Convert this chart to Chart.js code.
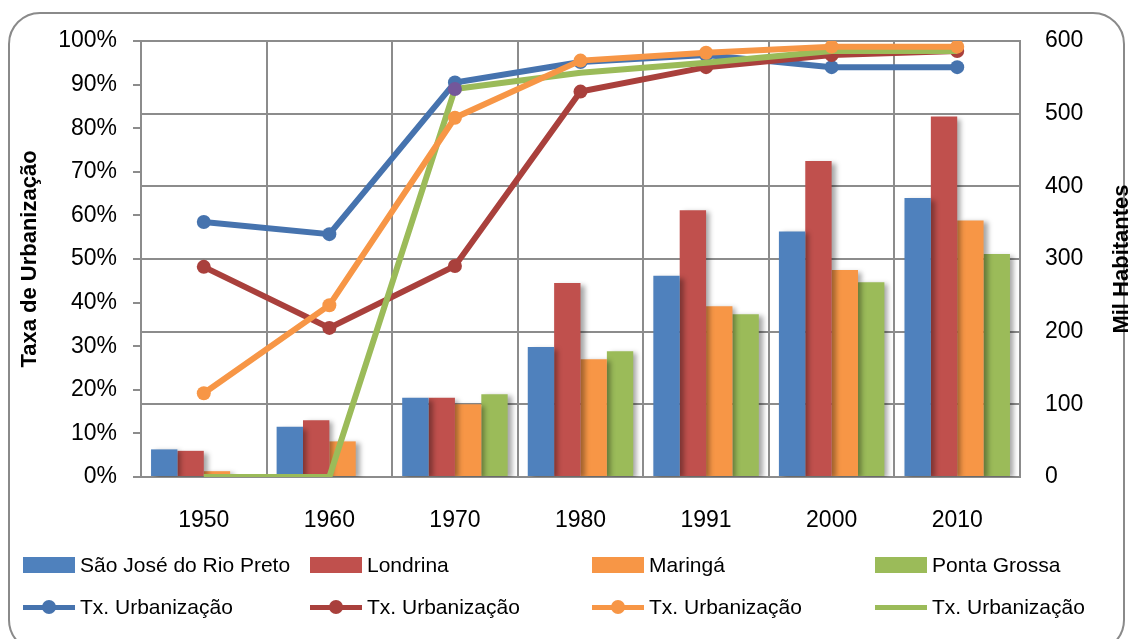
<!DOCTYPE html>
<html>
<head>
<meta charset="utf-8">
<script src="https://cdn.jsdelivr.net/npm/chart.js@4.4.0/dist/chart.umd.min.js"></script>
<style>
  html, body { margin: 0; padding: 0; background: #fff; }
  #wrap { position: relative; width: 1131px; height: 639px; overflow: hidden; background: #fff; }
  #frame { position: absolute; left: 8px; top: 12px; width: 1117px; height: 640px; border: 2px solid #8a8a8a; border-radius: 32px; box-sizing: border-box; }
  #chart { position: absolute; left: 0; top: 0; }
  #legend { position: absolute; left: 0; top: 0; width: 1131px; height: 639px; font-family: "Liberation Sans", Arial, sans-serif; font-size: 21px; color: #000; pointer-events: none; }
  .item { position: absolute; display: flex; align-items: center; height: 24px; white-space: nowrap; }
  .box { width: 52px; height: 16px; margin-right: 5px; }
  .ln { position: relative; width: 52px; height: 16px; margin-right: 5px; }
  .ln .bar { position: absolute; left: 0; right: 0; top: 5.5px; height: 5px; }
  .ln .dot { position: absolute; left: 19px; top: 1px; width: 14px; height: 14px; border-radius: 50%; }
</style>
</head>
<body>
<div id="wrap">
  <div id="frame"></div>
  <canvas id="chart" width="1131" height="639"></canvas>
  <div id="legend"></div>
</div>
<script>
// Census years
const years = ['1950', '1960', '1970', '1980', '1991', '2000', '2010'];

// City names and population (thousands of inhabitants)
const cityNames = ['São José do Rio Preto', 'Londrina', 'Maringá', 'Ponta Grossa'];
const popRioPreto    = [38, 69, 109, 179, 277, 338, 384];
const popLondrina    = [36, 78, 109, 267, 367, 435, 496];
const popMaringa     = [8, 49, 100, 162, 235, 285, 353];
const popPontaGrossa = [0, 0, 114, 173, 224, 268, 307];

// Urbanization rate (%)
const rateLabel = 'Tx. Urbanização';
const urbRioPreto    = [58.5, 55.7, 90.5, 95.2, 96.8, 94.0, 94.0];
const urbLondrina    = [48.2, 34.2, 48.4, 88.4, 94.0, 96.8, 97.7];
const urbMaringa     = [19.2, 39.4, 82.4, 95.5, 97.3, 98.7, 98.7];
const urbPontaGrossa = [0, 0, 89.0, 92.7, 95.0, 97.7, 97.7];

// Axis titles
const leftTitle = 'Taxa de Urbanização';
const rightTitle = 'Mil Habitantes';

const FONT = '"Liberation Sans", Arial, sans-serif';
const barColors  = ['#4F81BD', '#C0504D', '#F79646', '#9BBB59'];
const lineColors = ['#4673AE', '#A9403C', '#F79646', '#9BBB59'];
const GRID = '#8c8c8c';

const pops = [popRioPreto, popLondrina, popMaringa, popPontaGrossa];
const rates = [urbRioPreto, urbLondrina, urbMaringa, urbPontaGrossa];

const datasets = [];
// lines first so they sit on top of the bars
const lineDrawOrder = [4, 3, 1, 2];
rates.forEach((r, i) => {
  const isGreen = i === 3;
  datasets.push({
    type: 'line',
    label: rateLabel,
    data: r,
    yAxisID: 'yL',
    borderColor: lineColors[i],
    backgroundColor: lineColors[i],
    borderWidth: 6,
    pointRadius: isGreen ? [0, 0, 7, 0, 0, 0, 0] : 7,
    pointBackgroundColor: isGreen ? '#73579A' : lineColors[i],
    pointBorderWidth: 0,
    pointHoverRadius: 7,
    tension: 0,
    order: lineDrawOrder[i]
  });
});
pops.forEach((p, i) => {
  datasets.push({
    type: 'bar',
    label: cityNames[i],
    data: p,
    yAxisID: 'yR',
    backgroundColor: barColors[i],
    borderWidth: 0,
    categoryPercentage: 0.84,
    barPercentage: 1.0,
    order: 10
  });
});

// soft drop shadow behind the columns
const barShadow = {
  id: 'barShadow',
  beforeDatasetDraw(chart, args) {
    if (chart.data.datasets[args.index].type === 'bar') {
      const c = chart.ctx;
      c.save();
      c.shadowColor = 'rgba(0,0,0,0.35)';
      c.shadowBlur = 5;
      c.shadowOffsetX = 4;
      c.shadowOffsetY = 2;
    }
  },
  afterDatasetDraw(chart, args) {
    if (chart.data.datasets[args.index].type === 'bar') chart.ctx.restore();
  }
};

// vertical axis titles, both reading bottom-to-top
const axisTitles = {
  id: 'axisTitles',
  afterDraw(chart) {
    const c = chart.ctx;
    const a = chart.chartArea;
    const cy = (a.top + a.bottom) / 2;
    c.save();
    c.fillStyle = '#000';
    c.font = 'bold 22px ' + FONT;
    c.textAlign = 'center';
    c.textBaseline = 'middle';
    [[30, leftTitle], [1122, rightTitle]].forEach(([x, t]) => {
      c.save();
      c.translate(x, cy);
      c.rotate(-Math.PI / 2);
      c.fillText(t, 0, 0);
      c.restore();
    });
    c.restore();
  }
};

new Chart(document.getElementById('chart'), {
  data: { labels: years, datasets },
  plugins: [barShadow, axisTitles],
  options: {
    responsive: false,
    devicePixelRatio: 1,
    animation: false,
    layout: { padding: { left: 0, right: 0, top: 41, bottom: 0 } },
    plugins: { legend: { display: false }, tooltip: { enabled: false } },
    scales: {
      x: {
        grid: { color: GRID, lineWidth: 2, drawTicks: false, offset: true },
        border: { color: GRID, width: 2 },
        ticks: { color: '#000', font: { family: FONT, size: 23 }, padding: 30 },
        afterFit(s) { s.height = 162; }
      },
      yL: {
        position: 'left',
        min: 0, max: 100,
        ticks: { stepSize: 10, callback: v => v + '%', color: '#000', font: { family: FONT, size: 23 }, padding: 16 },
        grid: { drawOnChartArea: false, color: GRID, lineWidth: 2, tickLength: 8 },
        border: { color: GRID, width: 2 },
        afterFit(s) { s.width = 141; }
      },
      yR: {
        position: 'right',
        min: 0, max: 600,
        ticks: { stepSize: 100, color: '#000', font: { family: FONT, size: 23 }, padding: 25 },
        grid: { color: GRID, lineWidth: 2, drawTicks: false },
        border: { color: GRID, width: 2 },
        afterFit(s) { s.width = 111; }
      }
    }
  }
});

// legend: bar series on the first row, rate lines on the second
const legend = document.getElementById('legend');
const colX = [23, 310, 592, 875];
const rowY = [565, 607];
cityNames.forEach((name, i) => {
  const el = document.createElement('div');
  el.className = 'item';
  el.style.left = colX[i] + 'px';
  el.style.top = (rowY[0] - 12) + 'px';
  el.innerHTML = '<div class="box" style="background:' + barColors[i] + '"></div>';
  el.appendChild(document.createTextNode(name));
  legend.appendChild(el);
});
rates.forEach((r, i) => {
  const el = document.createElement('div');
  el.className = 'item';
  el.style.left = colX[i] + 'px';
  el.style.top = (rowY[1] - 12) + 'px';
  const dot = i === 3 ? '' : '<div class="dot" style="background:' + lineColors[i] + '"></div>';
  el.innerHTML = '<div class="ln"><div class="bar" style="background:' + lineColors[i] + '"></div>' + dot + '</div>';
  el.appendChild(document.createTextNode(rateLabel));
  legend.appendChild(el);
});
</script>
</body>
</html>
